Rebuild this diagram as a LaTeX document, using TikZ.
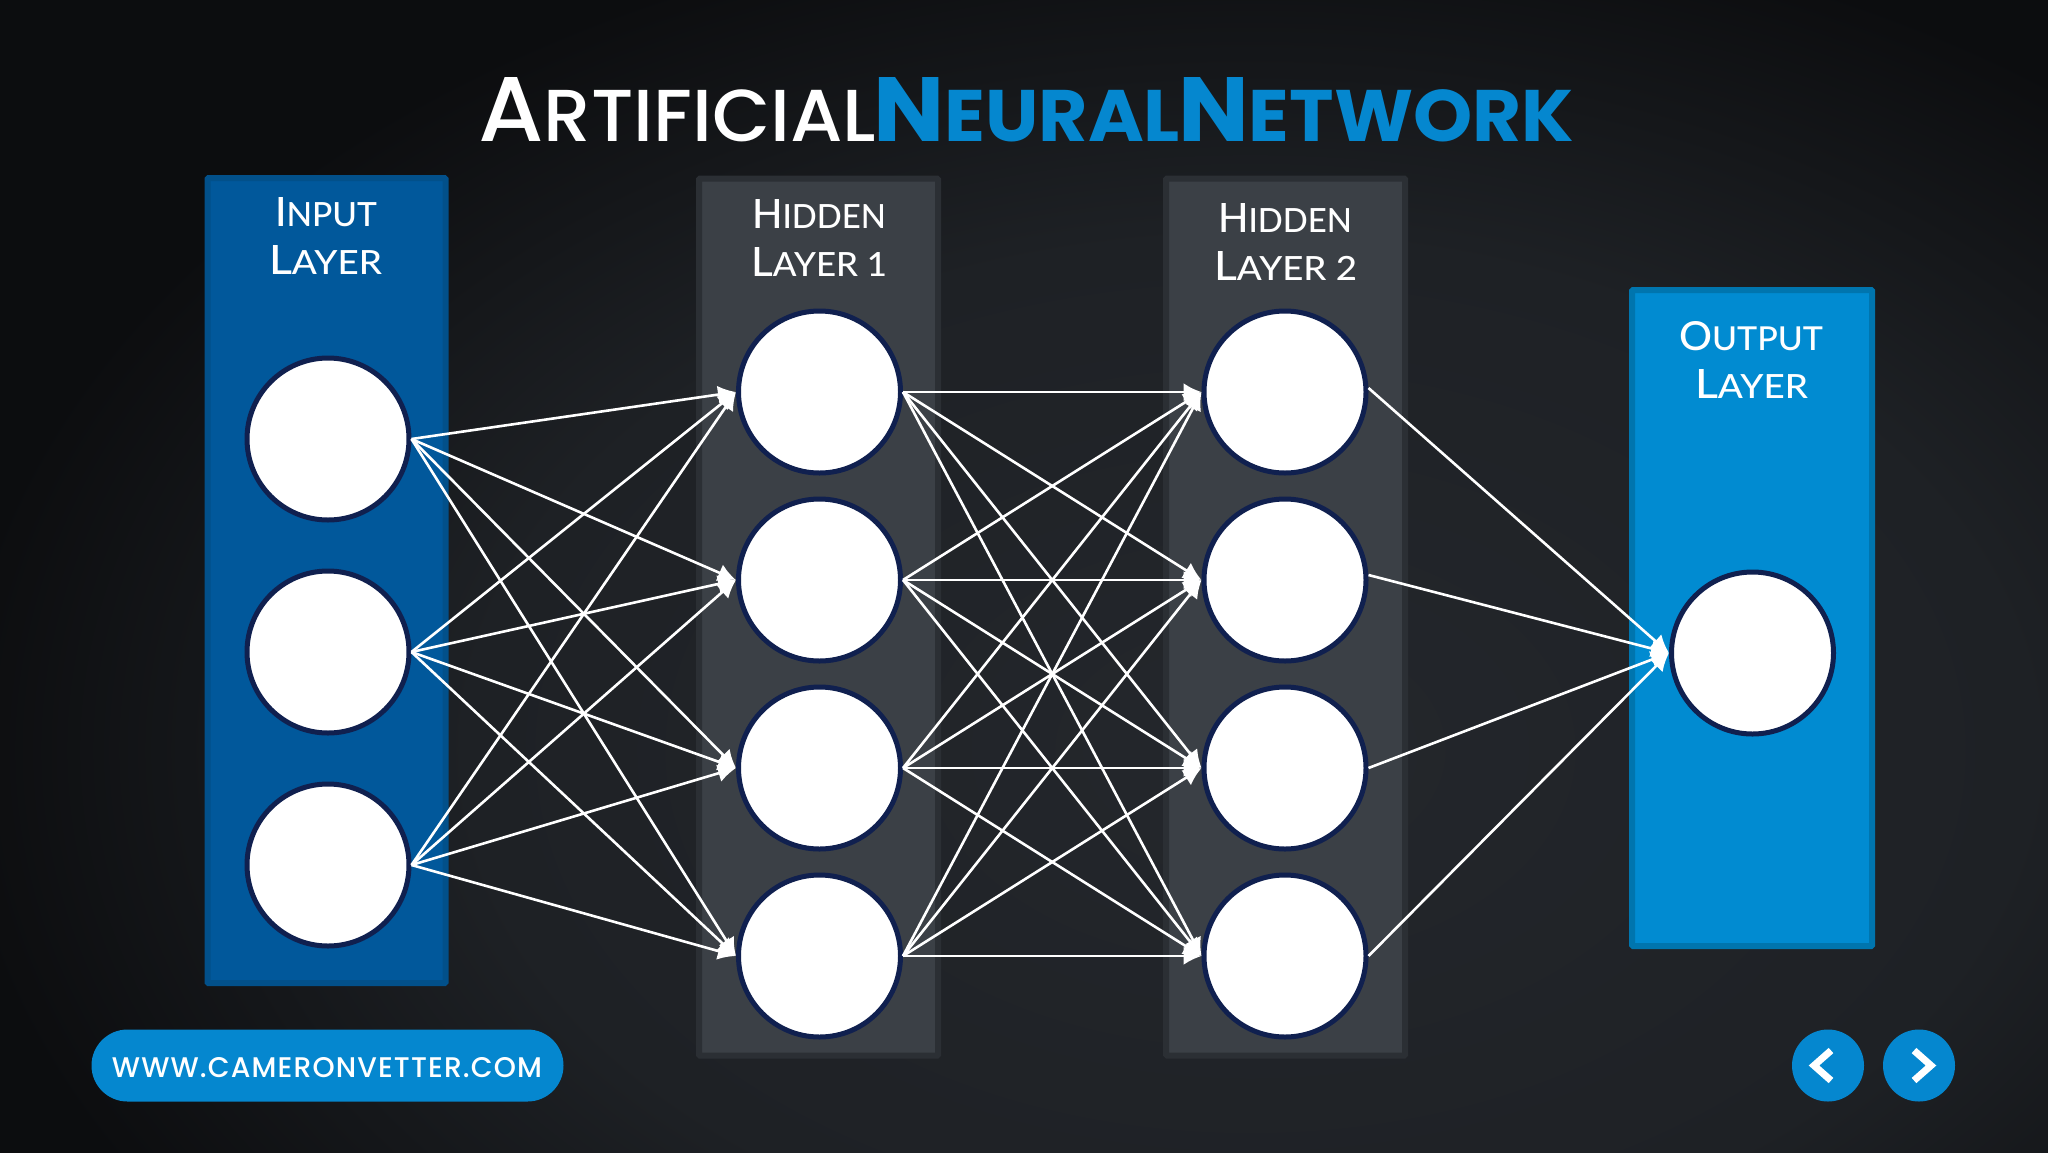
\documentclass[tikz,border=0pt]{standalone}
\usepackage{fontspec}
\usepackage{graphicx}
\usetikzlibrary{arrows.meta}
\setmainfont{Poppins Medium}[BoldFont=Poppins Bold]
\newfontfamily\labelfont{Lato Medium}
\newfontfamily\pillfont[LetterSpace=4]{Poppins Medium}
\definecolor{bgmid}{HTML}{24272C}
\definecolor{bgring}{HTML}{1E2125}
\definecolor{bgedge}{HTML}{0C0D0F}
\definecolor{inputfill}{HTML}{01589B}
\definecolor{inputedge}{HTML}{02508A}
\definecolor{hiddenfill}{HTML}{3B4046}
\definecolor{hiddenedge}{HTML}{2B2F34}
\definecolor{outputfill}{HTML}{018BD1}
\definecolor{outputedge}{HTML}{0075AE}
\definecolor{neuronedge}{HTML}{10204F}
\definecolor{accent}{HTML}{0587CF}
\pgfdeclareradialshading{bgshade}{\pgfpoint{0bp}{0bp}}{color(0bp)=(bgmid); color(15bp)=(bgring); color(25bp)=(bgedge); color(50bp)=(bgedge)}
% fake small caps: a large initial followed by smaller capitals
\newcommand{\bigsmall}[4]{{\fontsize{#3}{#3}\selectfont #1\fontsize{#4}{#4}\selectfont #2}}
\tikzset{
  panel/.style={rectangle, inner sep=0pt, line width=6pt, rounded corners=1pt},
  neuron/.style={circle, draw=neuronedge, fill=white, line width=5pt, inner sep=0pt, minimum size=162pt},
  link/.style={draw=white, line width=2.6pt, -{Latex[length=18pt,width=18pt]}},
  txt/.style={inner sep=0pt, outer sep=0pt, anchor=south west, text=white},
  roundbtn/.style={circle, fill=accent, inner sep=0pt, minimum size=72pt},
  chevron/.style={draw=white, line width=7pt, miter limit=10}
}
\begin{document}
\begin{tikzpicture}[x=1pt,y=-1pt]
\useasboundingbox (0,0) rectangle (2048,1152);
\begin{scope}
\clip (0,0) rectangle (2048,1152);
\shade[shading=bgshade] (-50,-100) rectangle (2550,1600);
\end{scope}

% panels
\node[panel, draw=inputedge, fill=inputfill, minimum width=238pt, minimum height=805pt] (pi) at (326.5,580.5) {};
\node[panel, draw=hiddenedge, fill=hiddenfill, minimum width=239pt, minimum height=877pt] (ph1) at (818.5,617) {};
\node[panel, draw=hiddenedge, fill=hiddenfill, minimum width=239pt, minimum height=877pt] (ph2) at (1285.5,617) {};
\node[panel, draw=outputedge, fill=outputfill, minimum width=240pt, minimum height=656pt] (po) at (1752,618) {};

% title
\node[txt] (t1) at (478,142) {\resizebox{398pt}{64pt}{\bigsmall{A}{RTIFICIAL}{80pt}{64pt}}};
\node[txt, text=accent] (t2) at (873,142) {\resizebox{307pt}{64pt}{\bfseries\bigsmall{N}{EURAL}{80pt}{64pt}}};
\node[txt, text=accent] (t3) at (1178,142) {\resizebox{396pt}{64pt}{\bfseries\bigsmall{N}{ETWORK}{80pt}{64pt}}};

% layer labels
\node[txt] (l1a) at (275,227) {\resizebox{102pt}{29pt}{\labelfont\bigsmall{I}{NPUT}{40pt}{33pt}}};
\node[txt] (l1b) at (269,274) {\resizebox{113pt}{29pt}{\labelfont\bigsmall{L}{AYER}{40pt}{33pt}}};
\node[txt] (l2a) at (752,228) {\resizebox{134pt}{29pt}{\labelfont\bigsmall{H}{IDDEN}{40pt}{33pt}}};
\node[txt] (l2b) at (751,276) {\resizebox{136pt}{29pt}{\labelfont\bigsmall{L}{AYER 1}{40pt}{33pt}}};
\node[txt] (l3a) at (1218,232) {\resizebox{134pt}{29pt}{\labelfont\bigsmall{H}{IDDEN}{40pt}{33pt}}};
\node[txt] (l3b) at (1214,280) {\resizebox{143pt}{29pt}{\labelfont\bigsmall{L}{AYER 2}{40pt}{33pt}}};
\node[txt] (l4a) at (1679,351) {\resizebox{144pt}{29pt}{\labelfont\bigsmall{O}{UTPUT}{40pt}{33pt}}};
\node[txt] (l4b) at (1695,398) {\resizebox{113pt}{29pt}{\labelfont\bigsmall{L}{AYER}{40pt}{33pt}}};

% neurons
\node[neuron] (a1) at (328,439) {};
\node[neuron] (a2) at (328,652) {};
\node[neuron] (a3) at (328,865) {};
\foreach \n/\y in {1/392,2/580,3/768,4/956}{
  \node[neuron] (b\n) at (819.5,\y) {};
  \node[neuron] (c\n) at (1285,\y) {};
}
\node[neuron] (d1) at (1752.5,653) {};

% connectors
\foreach \i in {1,2,3}{\foreach \j in {1,2,3,4}{\draw[link] (a\i.east) -- (b\j.west);}}
\foreach \i in {1,2,3,4}{\foreach \j in {1,2,3,4}{\draw[link] (b\i.east) -- (c\j.west);}}
\draw[link] ([yshift=4pt]c1.east) -- (d1.west);
\draw[link] ([yshift=5pt]c2.east) -- (d1.west);
\draw[link] (c3.east) -- (d1.west);
\draw[link] (c4.east) -- (d1.west);

% footer
\node[rectangle, rounded corners=36pt, fill=accent, minimum width=472pt, minimum height=72pt, inner sep=0pt] (pill) at (327.5,1065.5) {};
\node[inner sep=0pt, text=white] (url) at (327,1068) {\resizebox{430pt}{20pt}{\pillfont WWW.CAMERONVETTER.COM}};
\node[roundbtn] (prev) at (1828,1065.5) {};
\node[roundbtn] (next) at (1919,1065.5) {};
\draw[chevron] ([shift={(3,-15)}]prev.center) -- ([shift={(-14,0)}]prev.center) -- ([shift={(3,15)}]prev.center);
\draw[chevron] ([shift={(-5,-15)}]next.center) -- ([shift={(12,0)}]next.center) -- ([shift={(-5,15)}]next.center);
\end{tikzpicture}
\end{document}
